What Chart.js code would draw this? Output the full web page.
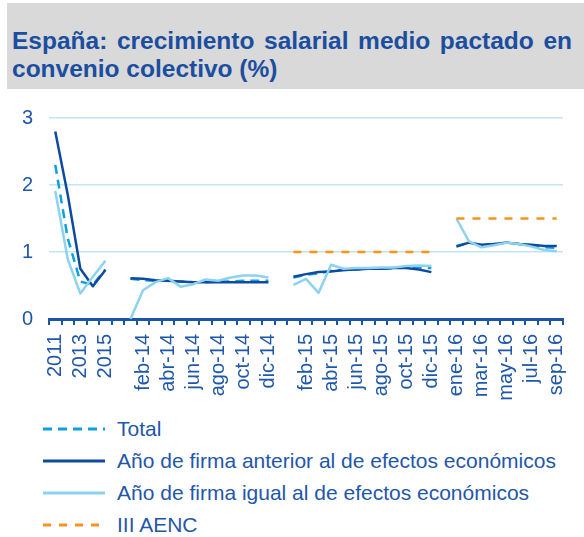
<!DOCTYPE html>
<html>
<head>
<meta charset="utf-8">
<script src="https://cdn.jsdelivr.net/npm/chart.js@4.4.1/dist/chart.umd.min.js"></script>
<style>
  html, body { margin: 0; padding: 0; background: #ffffff; }
  body { width: 584px; height: 537px; position: relative; overflow: hidden; font-family: 'Liberation Sans', Arial, sans-serif; }
  #title {
    position: absolute; left: 7px; top: 3px; width: 577px; height: 86px;
    box-sizing: border-box; padding: 24px 12px 0 5px;
    background: #D9D9D9; color: #1B4E9F;
    font-weight: bold; font-size: 24.5px; line-height: 28px;
    text-align: justify; text-align-last: left;
  }
  #chartWrap { position: absolute; left: 0; top: 90px; width: 584px; height: 320px; }
  #legend { position: absolute; left: 0; top: 413px; width: 584px; }
  .li { position: absolute; left: 0; height: 32px; width: 584px; }
  .li svg { position: absolute; left: 42px; top: 0; }
  .li span { position: absolute; left: 117px; top: 3px; font-size: 21px; color: #1F57AA; white-space: nowrap; line-height: 26px; }
</style>
</head>
<body>
<div id="title">España: crecimiento salarial medio pactado en convenio colectivo (%)</div>
<div id="chartWrap"><canvas id="c" width="584" height="320"></canvas></div>
<div id="legend"></div>
<script>
// ---- Data ----
const categories = [
  '2011','2012','2013','2014','2015','',
  'ene-14','feb-14','mar-14','abr-14','may-14','jun-14','jul-14','ago-14','sep-14','oct-14','nov-14','dic-14','',
  'ene-15','feb-15','mar-15','abr-15','may-15','jun-15','jul-15','ago-15','sep-15','oct-15','nov-15','dic-15','',
  'ene-16','feb-16','mar-16','abr-16','may-16','jun-16','jul-16','ago-16','sep-16'
];
const shownTickLabels = [
  '2011','2013','2015',
  'feb-14','abr-14','jun-14','ago-14','oct-14','dic-14',
  'feb-15','abr-15','jun-15','ago-15','oct-15','dic-15',
  'ene-16','mar-16','may-16','jul-16','sep-16'
];
const yTicks = [0, 1, 2, 3];

const total = [2.30,1.20,0.56,0.51,0.74, null,
  0.60,0.58,0.57,0.57,0.56,0.55,0.55,0.56,0.56,0.57,0.57,0.57, null,
  0.62,0.66,0.68,0.72,0.73,0.74,0.75,0.75,0.76,0.77,0.77,0.76, null,
  1.09,1.14,1.10,1.12,1.14,1.12,1.10,1.07,1.06];
const firmaAnterior = [2.80,1.85,0.75,0.49,0.73, null,
  0.61,0.60,0.58,0.57,0.56,0.55,0.55,0.55,0.55,0.55,0.55,0.55, null,
  0.63,0.67,0.70,0.71,0.73,0.74,0.75,0.75,0.76,0.76,0.74,0.70, null,
  1.08,1.14,1.11,1.12,1.14,1.12,1.11,1.09,1.09];
const firmaIgual = [1.91,0.89,0.38,0.63,0.87, null,
  0.00,0.43,0.55,0.61,0.48,0.52,0.59,0.57,0.62,0.65,0.65,0.62, null,
  0.51,0.60,0.39,0.81,0.75,0.76,0.76,0.77,0.77,0.79,0.80,0.79, null,
  1.50,1.16,1.07,1.10,1.14,1.12,1.08,1.03,1.01];
const aenc = [null,null,null,null,null, null,
  null,null,null,null,null,null,null,null,null,null,null,null, null,
  1.0,1.0,1.0,1.0,1.0,1.0,1.0,1.0,1.0,1.0,1.0,1.0, null,
  1.5,1.5,1.5,1.5,1.5,1.5,1.5,1.5,1.5];

const seriesNames = ['Total', 'Año de firma anterior al de efectos económicos', 'Año de firma igual al de efectos económicos', 'III AENC'];

// ---- Styles ----
const C_TEXT = '#1F57AA';
const C_AXIS = '#1A55A8';
const C_GRID = '#C3E4F5';
const FONT = "'Liberation Sans', Arial, sans-serif";

const styles = [
  { color: '#0AA0E2', dash: [9, 6], width: 2.5, order: 4 },
  { color: '#0E4BA0', dash: [], width: 2.5, order: 3 },
  { color: '#8ED2F2', dash: [], width: 2.5, order: 2 },
  { color: '#F7941D', dash: [8, 8], width: 2.5, order: 1 }
];
const seriesData = [total, firmaAnterior, firmaIgual, aenc];

const datasets = seriesData.map((d, i) => ({
  label: seriesNames[i],
  data: d,
  borderColor: styles[i].color,
  backgroundColor: styles[i].color,
  borderDash: styles[i].dash,
  borderWidth: styles[i].width,
  order: styles[i].order,
  pointRadius: 0,
  pointHoverRadius: 0,
  tension: 0,
  spanGaps: false,
  fill: false,
  borderCapStyle: 'butt',
  borderJoinStyle: 'round'
}));

new Chart(document.getElementById('c'), {
  type: 'line',
  data: { labels: categories, datasets },
  options: {
    responsive: false,
    animation: false,
    devicePixelRatio: 1,
    layout: { padding: { top: 19, right: 21, left: 0, bottom: 0 } },
    plugins: { legend: { display: false }, tooltip: { enabled: false }, title: { display: false } },
    scales: {
      x: {
        type: 'category',
        offset: true,
        grid: { display: true, drawOnChartArea: false, offset: true, drawTicks: true, tickLength: 6, color: C_AXIS, lineWidth: 2 },
        border: { display: true, color: C_AXIS, width: 3 },
        ticks: {
          autoSkip: false, minRotation: 90, maxRotation: 90, padding: 9,
          color: C_TEXT, font: { family: FONT, size: 20 },
          callback: function (v, idx) { const l = categories[idx]; return shownTickLabels.includes(l) ? l : ''; }
        },
        afterFit: (s) => { s.height = 91; s.paddingLeft = 0; s.paddingRight = 0; }
      },
      y: {
        min: yTicks[0], max: yTicks[yTicks.length - 1],
        grid: { color: C_GRID, lineWidth: 1.5, drawTicks: false },
        border: { display: false },
        ticks: {
          stepSize: 1, padding: 16, color: C_TEXT, font: { family: FONT, size: 20 },
          callback: (v) => yTicks.includes(v) ? String(v) : ''
        },
        afterFit: (s) => { s.width = 49; }
      }
    }
  }
});

// ---- HTML legend ----
const legend = document.getElementById('legend');
seriesNames.forEach((name, i) => {
  const row = document.createElement('div');
  row.className = 'li';
  row.style.top = (i * 32) + 'px';
  const st = styles[i];
  row.innerHTML = '<svg width="64" height="32"><line x1="1" y1="16" x2="63" y2="16" stroke="' + st.color +
    '" stroke-width="3"' + (st.dash.length ? ' stroke-dasharray="' + st.dash.join(',') + '"' : '') + '/></svg>';
  const sp = document.createElement('span');
  sp.textContent = name;
  row.appendChild(sp);
  legend.appendChild(row);
});
</script>
</body>
</html>
